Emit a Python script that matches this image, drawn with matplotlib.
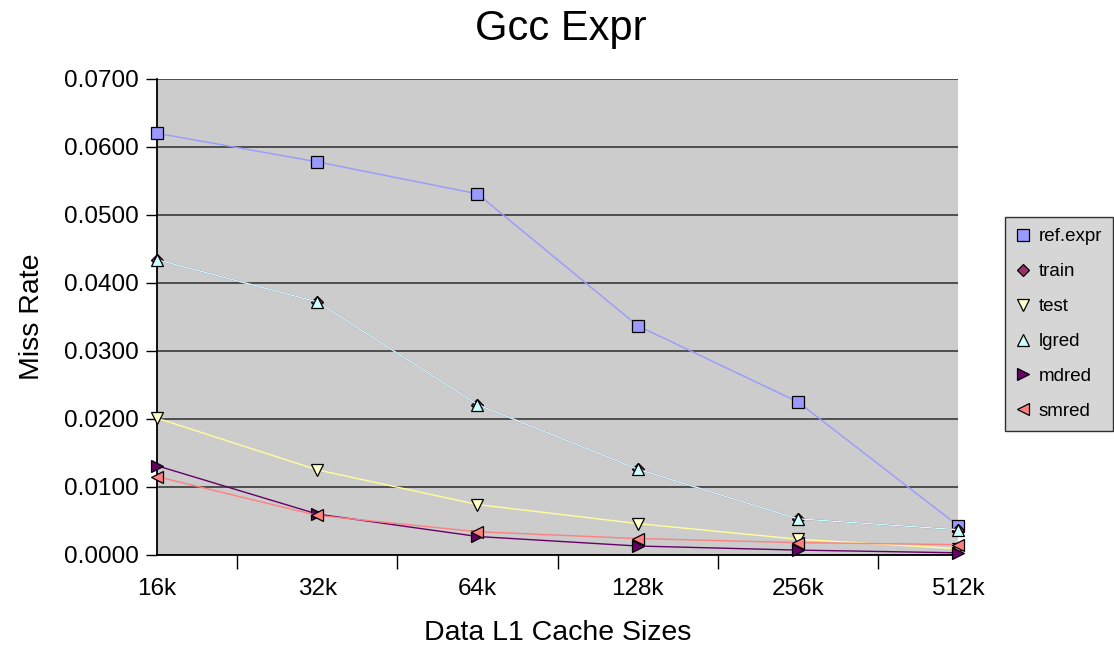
import numpy as np
import matplotlib
matplotlib.use('Agg')
import matplotlib.pyplot as plt
from matplotlib.lines import Line2D

plt.rcParams['font.family'] = ['Liberation Sans', 'DejaVu Sans']

# data
sizes = ['16k', '32k', '64k', '128k', '256k', '512k']
ref_expr = [0.0620, 0.0578, 0.0531, 0.0337, 0.0225, 0.0043]
train = [0.0434, 0.0372, 0.0221, 0.0126, 0.0053, 0.0037]
test = [0.0201, 0.0125, 0.0074, 0.0046, 0.0023, 0.0009]
lgred = [0.0434, 0.0372, 0.0221, 0.0126, 0.0053, 0.0037]
mdred = [0.0131, 0.0060, 0.0027, 0.0013, 0.0007, 0.0003]
smred = [0.0115, 0.0058, 0.0034, 0.0024, 0.0018, 0.0015]

series = [
    ('ref.expr', ref_expr, '#9999ff', 's'),
    ('train', train, '#993366', 'D'),
    ('test', test, '#ffff99', 'v'),
    ('lgred', lgred, '#ccffff', '^'),
    ('mdred', mdred, '#660066', '>'),
    ('smred', smred, '#ff8080', '<'),
]
face = {'test': '#ffffcc', 'lgred': '#ccffff'}

fig = plt.figure(figsize=(11.14, 6.52), dpi=100)
ax = fig.add_axes([0.141, 0.149, 0.719, 0.730])
ax.set_facecolor('#cccccc')

x = np.arange(len(sizes))
handles = []
for name, vals, col, mk in series:
    fc = face.get(name, col)
    ms = 6 if mk == 'D' else 8
    ax.plot(x, vals, color=col, lw=1.0, marker=mk, ms=ms,
            mfc=fc, mec='black', mew=0.9, zorder=3, clip_on=False)
    handles.append(Line2D([], [], ls='none', marker=mk, ms=ms,
                          mfc=fc, mec='black', mew=0.9, label=name))

ax.set_xlim(0, 5)
ax.set_ylim(0, 0.07)
ax.set_yticks(np.arange(0, 0.0701, 0.01))
ax.set_yticklabels([f'{v:.4f}' for v in np.arange(0, 0.0701, 0.01)])
ax.yaxis.grid(True, color='#444444', lw=1.3)
ax.set_axisbelow(True)

ax.set_xticks(x)
ax.set_xticklabels(sizes)
ax.set_xticks(x[:-1] + 0.5, minor=True)
ax.tick_params(axis='x', which='major', length=0, pad=17, labelsize=17.5)
ax.tick_params(axis='x', which='minor', length=10, width=1, direction='out')
ax.tick_params(axis='y', length=8, width=1, direction='out', labelsize=17.5, pad=5)

for s in ['top', 'right']:
    ax.spines[s].set_visible(False)
for s in ['left', 'bottom']:
    ax.spines[s].set_linewidth(1.3)

ax.set_xlabel('Data L1 Cache Sizes', fontsize=20.5, labelpad=14)
ax.set_ylabel('Miss Rate', fontsize=20.5, labelpad=14)
fig.text(0.503, 0.955, 'Gcc Expr', ha='center', va='center', fontsize=30)

leg = fig.legend(handles=handles, loc='center left', bbox_to_anchor=(0.902, 0.503),
                 frameon=True, fontsize=13.5, labelspacing=0.95,
                 handlelength=0.7, handletextpad=0.5, borderpad=0.6,
                 borderaxespad=0, fancybox=False, edgecolor='black',
                 facecolor='#cccccc')
leg.get_frame().set_linewidth(1.0)

fig.savefig('out.png', dpi=100)
